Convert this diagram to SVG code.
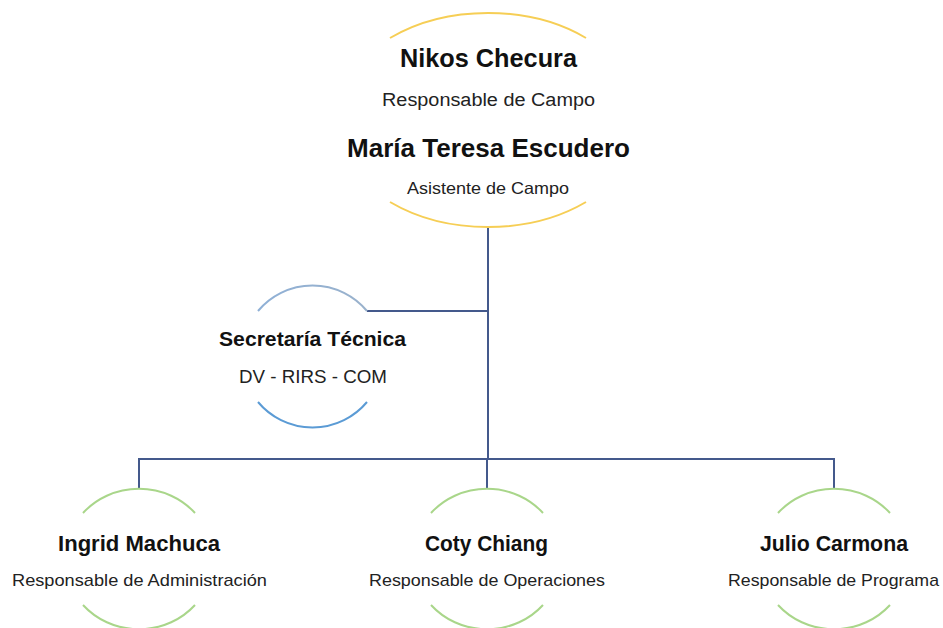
<svg xmlns="http://www.w3.org/2000/svg" width="943" height="628" viewBox="0 0 943 628">
  <defs>
    <style>
      .arc { fill: none; stroke-width: 2; }
      .gold { stroke: #F6CE55; }
      .green { stroke: #A9D68A; }
      .conn { fill: none; stroke: #44598C; stroke-width: 2; }
      .name { font-family: "Liberation Sans", Arial, sans-serif; font-weight: bold; fill: #111111; text-anchor: middle; }
      .role { font-family: "Liberation Sans", Arial, sans-serif; fill: #222222; text-anchor: middle; }
    </style>
    <linearGradient id="blueTop" x1="0" y1="0" x2="1" y2="0">
      <stop offset="0" stop-color="#8FB0D6"/>
      <stop offset="1" stop-color="#9AB2CC"/>
    </linearGradient>
  </defs>
  <rect width="943" height="628" fill="#ffffff"/>

  <g id="connectors">
    <path class="conn" d="M 488 227 V 459"/>
    <path class="conn" d="M 367 311 H 488"/>
    <path class="conn" d="M 139 489 V 459 H 834 V 489"/>
    <path class="conn" d="M 487 459 V 489"/>
  </g>

  <g id="node-campo">
    <path class="arc gold" d="M 390 38 A 152.5 107 0 0 1 586 38"/>
    <path class="arc gold" d="M 390 202 A 152.5 107 0 0 0 586 202"/>
    <text class="name" x="488.5" y="67" font-size="25" textLength="177" lengthAdjust="spacingAndGlyphs">Nikos Checura</text>
    <text class="role" x="488.5" y="106" font-size="18" textLength="213" lengthAdjust="spacingAndGlyphs">Responsable de Campo</text>
    <text class="name" x="488.5" y="157" font-size="25" textLength="283" lengthAdjust="spacingAndGlyphs">María Teresa Escudero</text>
    <text class="role" x="488" y="194" font-size="16.5" textLength="162" lengthAdjust="spacingAndGlyphs">Asistente de Campo</text>
  </g>

  <g id="node-secretaria">
    <path class="arc" stroke="url(#blueTop)" d="M 258 311 A 71 71 0 0 1 367 311"/>
    <path class="arc" stroke="#5B9BD5" d="M 258 402 A 71 71 0 0 0 367 402"/>
    <text class="name" x="312.5" y="346" font-size="21" textLength="187" lengthAdjust="spacingAndGlyphs">Secretaría Técnica</text>
    <text class="role" x="313" y="383" font-size="18.5" textLength="148" lengthAdjust="spacingAndGlyphs">DV - RIRS - COM</text>
  </g>

  <g id="node-ingrid">
    <path class="arc green" d="M 83 513 A 74 70 0 0 1 195 513"/>
    <path class="arc green" d="M 83 605 A 74 70 0 0 0 195 605"/>
    <text class="name" x="139" y="551" font-size="21.5" textLength="162" lengthAdjust="spacingAndGlyphs">Ingrid Machuca</text>
    <text class="role" x="139.5" y="586" font-size="17" textLength="255" lengthAdjust="spacingAndGlyphs">Responsable de Administración</text>
  </g>

  <g id="node-coty">
    <path class="arc green" d="M 431 513 A 74 70 0 0 1 543 513"/>
    <path class="arc green" d="M 431 605 A 74 70 0 0 0 543 605"/>
    <text class="name" x="486.5" y="551" font-size="21.5" textLength="123" lengthAdjust="spacingAndGlyphs">Coty Chiang</text>
    <text class="role" x="487" y="586" font-size="17" textLength="236" lengthAdjust="spacingAndGlyphs">Responsable de Operaciones</text>
  </g>

  <g id="node-julio">
    <path class="arc green" d="M 778 513 A 74 70 0 0 1 890 513"/>
    <path class="arc green" d="M 778 605 A 74 70 0 0 0 890 605"/>
    <text class="name" x="834" y="551" font-size="21.5" textLength="148" lengthAdjust="spacingAndGlyphs">Julio Carmona</text>
    <text class="role" x="833.5" y="586" font-size="17" textLength="211" lengthAdjust="spacingAndGlyphs">Responsable de Programa</text>
  </g>
</svg>
